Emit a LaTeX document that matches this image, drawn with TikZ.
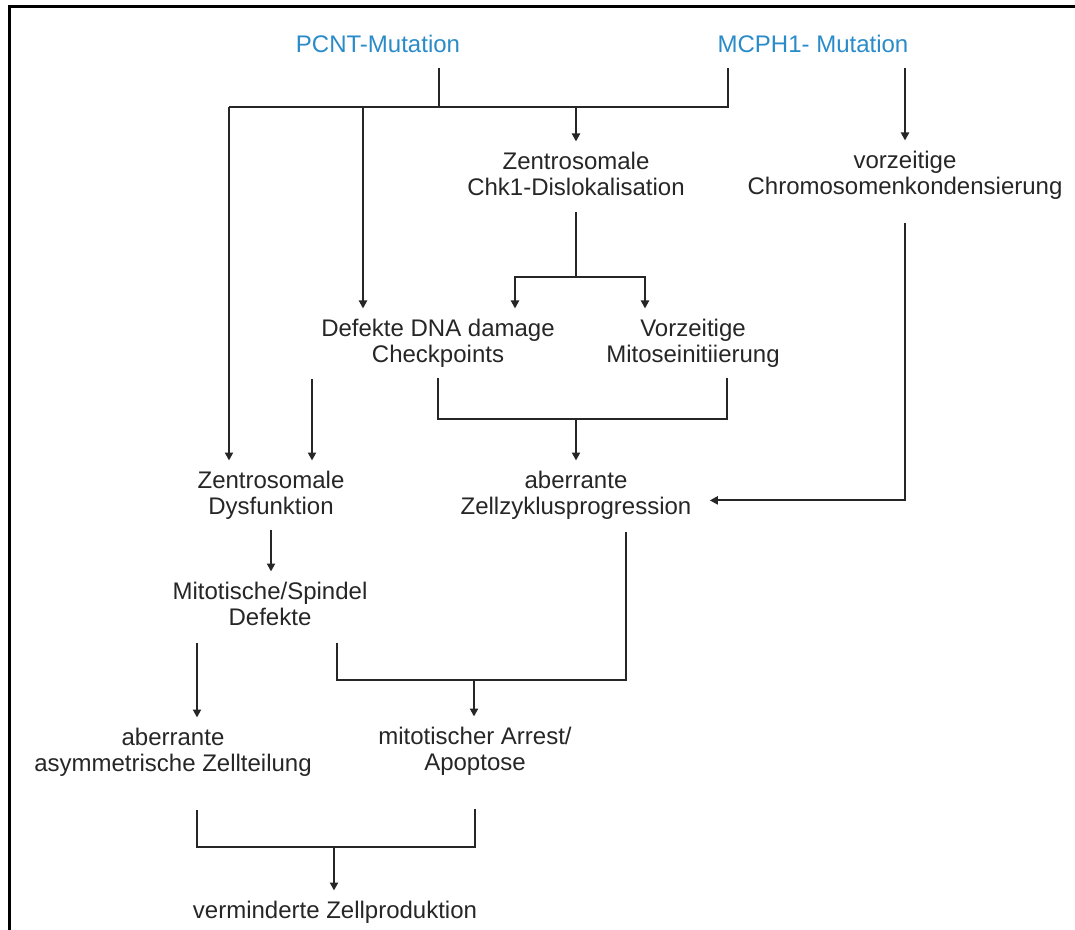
\documentclass[tikz,border=0pt]{standalone}
\usepackage{fontspec}
\setmainfont{Liberation Sans}
\usepackage{xcolor}
\usepackage{tikz}
\usetikzlibrary{arrows.meta}
\definecolor{mutblue}{HTML}{2A8BC9}
\definecolor{inkgray}{HTML}{262626}

\begin{document}
\begin{tikzpicture}[
  x=0.5pt, y=-0.5pt,
  font=\fontsize{12}{13.3}\selectfont,
  >={Triangle[length=4pt, width=4pt]},
  link/.style={line width=1pt, draw=inkgray},
  flow/.style={->, line width=1pt, draw=inkgray},
  lbl/.style={align=center, text=inkgray, inner xsep=5pt, inner ysep=5pt, anchor=north},
  mut/.style={lbl, text=mutblue}
]
\useasboundingbox (0,0) rectangle (1075,930);
%% frame, only its top and left edges are inside the page
\draw[line width=1.4pt, draw=black] (9.6,930) -- (9.6,6.7) -- (1075,6.7);

%% ---- the two mutations ---------------------------------------------------
\node[mut] (pcnt) at (378,24.5) {PCNT-Mutation};
\node[mut] (mcph) at (813,24.5) {MCPH1- Mutation};

\coordinate (barL) at (229,107);
\coordinate (barD) at (363,107);
\draw[link, shorten <=2.75pt] ([xshift=30.5pt]pcnt.south) -- ([xshift=30.5pt]pcnt.south |- barL);
\draw[link, shorten <=2.75pt] ([xshift=-42.5pt]mcph.south) |- (barL);

%% ---- upper level ---------------------------------------------------------
\node[lbl] (chk) at (576,141.5) {Zentrosomale\\Chk1-Dislokalisation};
\node[lbl] (praecc) at (905,140.5) {vorzeitige\\Chromosomenkondensierung};
\node[lbl] (dna) at (438,308.5) {Defekte DNA damage\\Checkpoints};
\node[lbl] (mitose) at (693,308.5) {Vorzeitige\\Mitoseinitiierung};

\draw[flow] (chk.north |- barL) -- (chk.north);
\draw[flow] (barD) -- (barD |- dna.north);
\draw[flow, shorten <=2.75pt] (praecc.north |- mcph.south) -- (praecc.north);

\coordinate (splitC) at (576,277);
\draw[link, shorten <=2.75pt] (chk.south) -- (splitC);
\draw[flow] (splitC) -| ([xshift=38.5pt]dna.north);
\draw[flow] (splitC) -| ([xshift=-24pt]mitose.north);

%% ---- middle level --------------------------------------------------------
\node[lbl] (dysf) at (271,460.5) {Zentrosomale\\Dysfunktion};
\node[lbl] (zyklus) at (576,460.5) {aberrante\\Zellzyklusprogression};

\draw[flow] (barL) -- (barL |- dysf.north);
\coordinate (dysfIn) at (312,379);
\draw[flow] (dysfIn) -- (dysfIn |- dysf.north);

\coordinate (joinA) at (576,419);
\draw[link] (dna.south) |- ([xshift=17pt]mitose.south |- joinA) -- ([xshift=17pt]mitose.south);
\draw[flow] (joinA) -- (zyklus.north);
\draw[flow, shorten <=6.5pt, shorten >=4pt] (praecc.south) |- ([yshift=-2.5pt]zyklus.east);

%% ---- lower level ---------------------------------------------------------
\node[lbl] (spindel) at (270,571.5) {Mitotische/Spindel\\Defekte};
\node[lbl] (asym) at (173,717.5) {aberrante\\asymmetrische Zellteilung};
\node[lbl] (arrest) at (475,716.5) {mitotischer Arrest/\\Apoptose};
\node[lbl] (prod) at (335,890.5) {verminderte Zellproduktion};

\draw[flow] (dysf.south) -- (dysf.south |- spindel.north);
\draw[flow, shorten <=3pt] ([xshift=-36.5pt]spindel.south) -- ([xshift=-36.5pt]spindel.south |- asym.north);

\coordinate (joinB) at (474,680);
\draw[link, shorten <=3pt, shorten >=1pt] ([xshift=33.5pt]spindel.south) |- ([xshift=25pt]zyklus.south |- joinB) -- ([xshift=25pt]zyklus.south);
\draw[flow] (joinB) -- (joinB |- arrest.north);

\coordinate (joinC) at (334,847);
\draw[link, shorten <=11.5pt, shorten >=11.5pt] ([xshift=12pt]asym.south) |- (arrest.south |- joinC) -- (arrest.south);
\draw[flow] (joinC) -- (joinC |- prod.north);

\end{tikzpicture}
\end{document}
